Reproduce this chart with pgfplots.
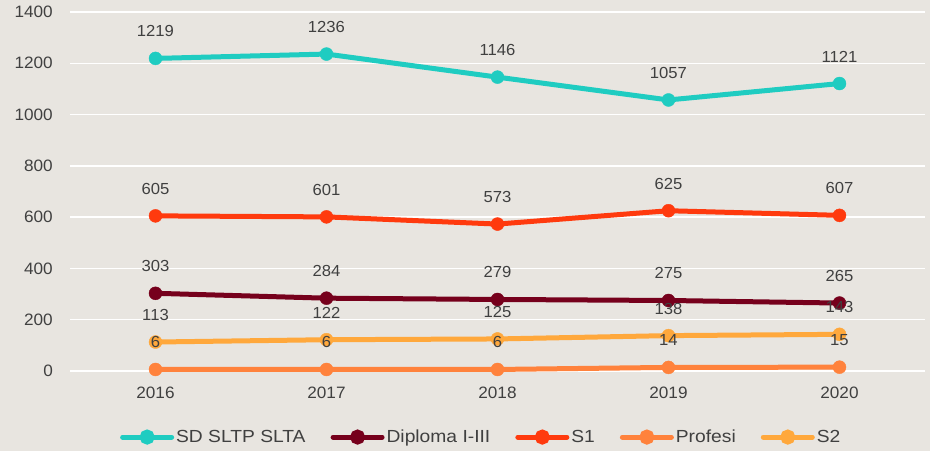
\documentclass[border=0pt]{standalone}
\usepackage{pgfplots}
\pgfplotsset{compat=1.18}
\usepackage{pgfplotstable}
\usepackage{fontspec}
\setmainfont[FakeStretch=1.04]{Liberation Sans}
\newfontfamily\legfont[FakeStretch=1.1]{Liberation Sans}

\definecolor{bg}{RGB}{232,229,224}
\definecolor{txt}{RGB}{64,64,64}
\definecolor{cSD}{RGB}{31,204,193}
\definecolor{cDip}{RGB}{118,0,28}
\definecolor{cSone}{RGB}{255,58,14}
\definecolor{cProf}{RGB}{255,130,60}
\definecolor{cStwo}{RGB}{255,168,60}

\pgfplotstableread{
x sd dip s1 prof s2
0 1219 303 605 6 113
1 1236 284 601 6 122
2 1146 279 573 6 125
3 1057 275 625 14 138
4 1121 265 607 15 143
}\data

\begin{document}
\begin{tikzpicture}
\fill[bg] (-70pt,-80pt) rectangle (860pt,371pt);
\begin{axis}[
    at={(0,0)}, anchor=south west,
    scale only axis, width=855pt, height=359pt,
    xmin=-0.5, xmax=4.5, ymin=0, ymax=1400,
    xtick={0,1,2,3,4},
    xticklabels={2016,2017,2018,2019,2020},
    ytick={0,200,...,1400},
    axis line style={draw=none},
    major tick style={draw=none},
    ymajorgrids,
    grid style={white, line width=1.5pt},
    /pgf/number format/1000 sep={},
    /pgf/number format/assume math mode=true,
    ticklabel style={font=\fontsize{16.5}{19}\selectfont, text=txt},
    xticklabel style={anchor=center, yshift=-22pt},
    yticklabel style={anchor=east, inner sep=0pt, xshift=-17pt},
    every axis plot/.append style={line width=5pt},
    mark options={solid, line width=0.4pt},
    legend style={draw=none, fill=none, at={(0.481,-0.184)}, anchor=center,
        legend columns=-1, font=\legfont\fontsize{17.5}{20}\selectfont, text=txt,
        nodes={inner sep=2pt},
        /tikz/every even column/.append style={column sep=23pt}},
    legend image code/.code={
        \draw[#1, mark=none, line cap=round] (0pt,0pt) -- (49pt,0pt);
        \fill[#1] (24.5pt,0pt) circle (5pt);},
    nodes near coords style={font=\fontsize{16}{18}\selectfont, text=txt,
        anchor=center, yshift=27pt},
]
\addplot[cSD, mark=*, mark size=6.5pt] table[x=x, y=sd]{\data};
\addplot[cDip, mark=*, mark size=6.5pt] table[x=x, y=dip]{\data};
\addplot[cSone, mark=*, mark size=6.5pt] table[x=x, y=s1]{\data};
\addplot[cProf, mark=*, mark size=6.5pt] table[x=x, y=prof]{\data};
\addplot[cStwo, mark=*, mark size=6.5pt] table[x=x, y=s2]{\data};
\legend{SD SLTP SLTA, Diploma I-III, S1, Profesi, S2}

\addplot[draw=none, mark=none, nodes near coords, forget plot] table[x=x, y=sd]{\data};
\addplot[draw=none, mark=none, nodes near coords, forget plot] table[x=x, y=dip]{\data};
\addplot[draw=none, mark=none, nodes near coords, forget plot] table[x=x, y=s1]{\data};
\addplot[draw=none, mark=none, nodes near coords, forget plot] table[x=x, y=prof]{\data};
\addplot[draw=none, mark=none, nodes near coords, forget plot] table[x=x, y=s2]{\data};
\end{axis}
\pgfresetboundingbox
\path (-70pt,-80pt) rectangle (860pt,371pt);
\end{tikzpicture}
\end{document}
